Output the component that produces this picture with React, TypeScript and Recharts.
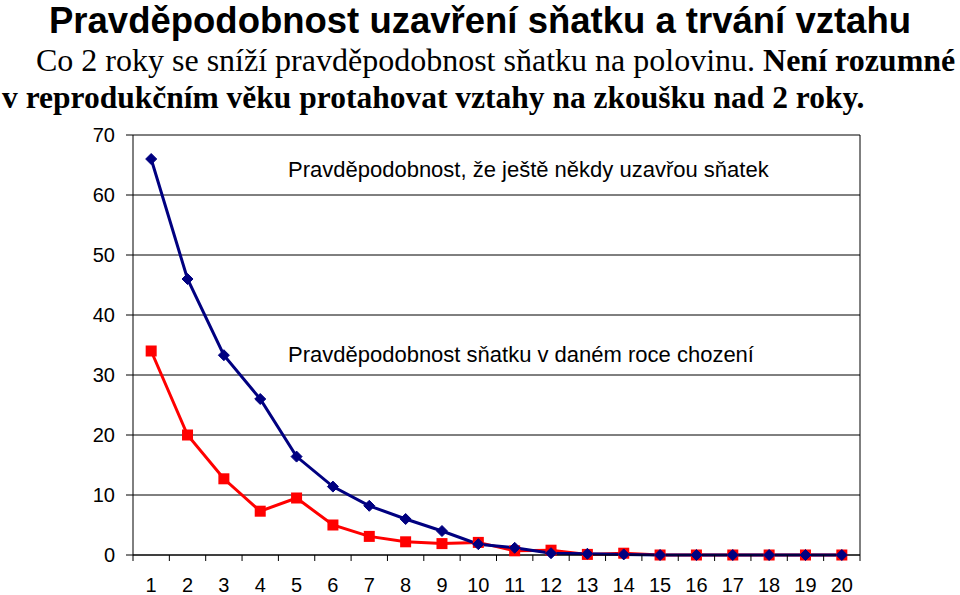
import { LineChart, Line, XAxis, YAxis, CartesianGrid, ReferenceLine } from 'recharts';

const years = [1, 2, 3, 4, 5, 6, 7, 8, 9, 10, 11, 12, 13, 14, 15, 16, 17, 18, 19, 20];
const everMarry = [66, 46, 33.3, 26, 16.4, 11.4, 8.2, 6, 4, 1.8, 1.2, 0.3, 0.2, 0.1, 0, 0, 0, 0, 0, 0];
const marryThisYear = [34, 20, 12.7, 7.3, 9.5, 5, 3.1, 2.2, 1.9, 2.1, 0.7, 0.8, 0.1, 0.3, 0, 0, 0, 0, 0, 0];
const yTicks = [0, 10, 20, 30, 40, 50, 60, 70];

const title = 'Pravděpodobnost uzavření sňatku a trvání vztahu';
const subtitlePlain = 'Co 2 roky se sníží pravděpodobnost sňatku na polovinu. ';
const subtitleBold1 = 'Není rozumné';
const subtitleBold2 = 'v reprodukčním věku protahovat vztahy na zkoušku nad 2 roky.';
const labelEver = 'Pravděpodobnost, že ještě někdy uzavřou sňatek';
const labelYear = 'Pravděpodobnost sňatku v daném roce chození';

const data = years.map((y, i) => ({ year: y, ever: everMarry[i], year1: marryThisYear[i] }));

const W = 960;
const H = 595;
const M = { top: 135, right: 100, bottom: 10, left: 103 };
const X_AXIS_H = 30;
const AXIS_Y = H - M.bottom - X_AXIS_H;
const halfBand = (W - M.left - 30 - M.right) / years.length / 2;

const Diamond = (p: any) => {
  const { cx, cy } = p;
  if (cx == null || cy == null) return null;
  const r = 5.5;
  return <polygon points={`${cx},${cy - r} ${cx + r},${cy} ${cx},${cy + r} ${cx - r},${cy}`} fill="#000080" stroke="#000080" />;
};

const Square = (p: any) => {
  const { cx, cy } = p;
  if (cx == null || cy == null) return null;
  return <rect x={cx - 5.5} y={cy - 5.5} width={11} height={11} fill="#ff0000" />;
};

const XTick = (p: any) => {
  const { x, payload, index } = p;
  return (
    <g>
      {index === 0 && <line x1={x - halfBand} x2={x - halfBand} y1={AXIS_Y} y2={AXIS_Y + 6} stroke="#000" />}
      <line x1={x + halfBand} x2={x + halfBand} y1={AXIS_Y} y2={AXIS_Y + 6} stroke="#000" />
      <text x={x} y={AXIS_Y + 37} textAnchor="middle" fontSize={20} fontFamily="Liberation Sans, Arial" fill="#000">
        {payload.value}
      </text>
    </g>
  );
};

export default function App() {
  return (
    <div style={{ position: 'absolute', left: 0, top: 0, width: W, height: H, background: '#fff' }}>
      <div style={{ position: 'absolute', left: 0, top: 0, width: W, textAlign: 'center', font: 'bold 36.5px "Liberation Sans", Arial', lineHeight: '41px' }}>
        {title}
      </div>
      <div style={{ position: 'absolute', left: 36, top: 42, whiteSpace: 'nowrap', font: '32px "Liberation Serif", serif', lineHeight: '36px' }}>
        {subtitlePlain}
        <b>{subtitleBold1}</b>
      </div>
      <div style={{ position: 'absolute', left: 2, top: 80, whiteSpace: 'nowrap', font: 'bold 31.5px "Liberation Serif", serif', lineHeight: '36px' }}>
        {subtitleBold2}
      </div>
      <div style={{ position: 'absolute', left: 0, top: 0 }}>
        <LineChart width={W} height={H} data={data} margin={M}>
          <CartesianGrid vertical={false} stroke="#000" strokeWidth={1} />
          <XAxis
            dataKey="year"
            type="number"
            domain={[0.5, 20.5]}
            ticks={years}
            interval={0}
            height={X_AXIS_H}
            tick={<XTick />}
            tickLine={false}
            axisLine={{ stroke: '#000' }}
          />
          <YAxis
            domain={[0, 70]}
            ticks={yTicks}
            width={30}
            tickSize={7}
            tickMargin={11}
            tick={{ fontSize: 20, fill: '#000', fontFamily: 'Liberation Sans, Arial' }}
            tickLine={{ stroke: '#000' }}
            axisLine={{ stroke: '#000' }}
          />
          <ReferenceLine x={20.5} stroke="#000" />
          <Line dataKey="year1" stroke="#ff0000" strokeWidth={3} dot={<Square />} isAnimationActive={false} />
          <Line dataKey="ever" stroke="#000080" strokeWidth={3} dot={<Diamond />} isAnimationActive={false} />
        </LineChart>
      </div>
      <div style={{ position: 'absolute', left: 288, top: 157, whiteSpace: 'nowrap', font: '22px "Liberation Sans", Arial', lineHeight: '26px' }}>
        {labelEver}
      </div>
      <div style={{ position: 'absolute', left: 288, top: 342, whiteSpace: 'nowrap', font: '22px "Liberation Sans", Arial', lineHeight: '26px' }}>
        {labelYear}
      </div>
    </div>
  );
}
